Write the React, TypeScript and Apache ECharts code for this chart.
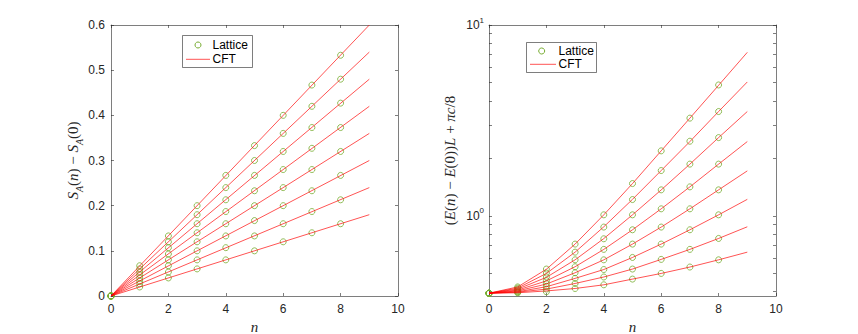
import React, { useEffect, useRef } from 'react';
import * as echarts from 'echarts';

// ---------- data ----------
const latticeN = [0, 1, 2, 3, 4, 5, 6, 7, 8];
const curveN = [0, 1, 2, 3, 4, 5, 6, 7, 8, 9];
const lineEndN = 9;

// Left panel: S_A(n) - S_A(0), Lattice points (n = 0..8), top line first
const entropyA = [0, 0.067, 0.133, 0.2, 0.267, 0.333, 0.4, 0.467, 0.533];
const entropyB = [0, 0.06, 0.12, 0.18, 0.24, 0.3, 0.36, 0.42, 0.48];
const entropyC = [0, 0.053, 0.107, 0.16, 0.213, 0.267, 0.32, 0.373, 0.427];
const entropyD = [0, 0.047, 0.093, 0.14, 0.187, 0.233, 0.28, 0.327, 0.373];
const entropyE = [0, 0.04, 0.08, 0.12, 0.16, 0.2, 0.24, 0.28, 0.32];
const entropyF = [0, 0.033, 0.067, 0.1, 0.133, 0.167, 0.2, 0.233, 0.267];
const entropyG = [0, 0.027, 0.053, 0.08, 0.107, 0.133, 0.16, 0.187, 0.213];
const entropyH = [0, 0.02, 0.04, 0.06, 0.08, 0.1, 0.12, 0.14, 0.16];
// CFT straight lines: value at n = 0 and at n = 9
const entropyCftStart = [0, 0, 0, 0, 0, 0, 0, 0];
const entropyCftEnd = [0.6, 0.54, 0.48, 0.42, 0.36, 0.3, 0.24, 0.18];

// Right panel: (E(n)-E(0))L + pi c/8, Lattice points (n = 0..8)
const energyA = [0.393, 0.424, 0.526, 0.711, 1.012, 1.476, 2.19, 3.25, 4.85];
const energyB = [0.393, 0.418, 0.501, 0.645, 0.873, 1.217, 1.727, 2.46, 3.52];
const energyC = [0.393, 0.413, 0.478, 0.588, 0.758, 1.012, 1.368, 1.866, 2.57];
const energyD = [0.393, 0.408, 0.457, 0.541, 0.667, 0.845, 1.088, 1.418, 1.866];
const energyE = [0.393, 0.404, 0.441, 0.503, 0.588, 0.711, 0.873, 1.088, 1.368];
const energyF = [0.393, 0.4, 0.427, 0.47, 0.523, 0.605, 0.711, 0.845, 1.012];
const energyG = [0.393, 0.398, 0.413, 0.442, 0.478, 0.526, 0.591, 0.667, 0.761];
const energyH = [0.393, 0.395, 0.4, 0.416, 0.435, 0.466, 0.499, 0.539, 0.588];
// CFT curves at n = 0..9
const energyCftA = [0.393, 0.424, 0.525, 0.711, 1.012, 1.476, 2.19, 3.25, 4.83, 7.19];
const energyCftB = [0.393, 0.418, 0.499, 0.645, 0.876, 1.22, 1.727, 2.45, 3.52, 5.03];
const energyCftC = [0.393, 0.413, 0.476, 0.588, 0.76, 1.012, 1.367, 1.866, 2.57, 3.52];
const energyCftD = [0.393, 0.408, 0.456, 0.541, 0.667, 0.845, 1.088, 1.418, 1.866, 2.45];
const energyCftE = [0.393, 0.404, 0.439, 0.503, 0.588, 0.711, 0.873, 1.088, 1.368, 1.72];
const energyCftF = [0.393, 0.4, 0.425, 0.47, 0.523, 0.605, 0.711, 0.845, 1.012, 1.22];
const energyCftG = [0.393, 0.398, 0.413, 0.442, 0.478, 0.526, 0.591, 0.667, 0.761, 0.876];
const energyCftH = [0.393, 0.395, 0.404, 0.416, 0.435, 0.466, 0.499, 0.539, 0.588, 0.645];

const leftTicksY = { min: 0, max: 0.6, interval: 0.1 };
const xTicks = { min: 0, max: 10, interval: 2 };
const logMin = 0.38;
const logMax = 10;
const logTickValues = [0.4, 0.5, 0.6, 0.7, 0.8, 0.9, 1, 2, 3, 4, 5, 6, 7, 8, 9, 10];
const logLabelValues = [1, 10];

const entropySets = [entropyA, entropyB, entropyC, entropyD, entropyE, entropyF, entropyG, entropyH];
const energySets = [energyA, energyB, energyC, energyD, energyE, energyF, energyG, energyH];
const energyCftSets = [energyCftA, energyCftB, energyCftC, energyCftD, energyCftE, energyCftF, energyCftG, energyCftH];

// ---------- styles ----------
const AX = '#262626';
const GREEN = '#77AC30';
const RED = 'rgba(255,0,0,0.85)';
const SANS = 'Liberation Sans, Arial, Helvetica, sans-serif';
const SERIF = 'Liberation Serif, DejaVu Serif, serif';

const tick = { show: true, inside: true, length: 3, lineStyle: { color: AX, width: 0.6 } };
const line = { show: true, onZero: false, lineStyle: { color: AX, width: 0.6 } };
const label = { color: AX, fontSize: 12, fontFamily: SANS };

const mathRich = {
  i: { fontFamily: SERIF, fontStyle: 'italic', fontSize: 15, lineHeight: 22, color: AX },
  r: { fontFamily: SERIF, fontSize: 15, lineHeight: 22, color: AX },
  s: { fontFamily: SERIF, fontStyle: 'italic', fontSize: 10, lineHeight: 10, verticalAlign: 'bottom', color: AX },
};

function buildOption() {
  const series: any[] = [];
  entropySets.forEach((vals) => {
    series.push({
      type: 'scatter', xAxisIndex: 0, yAxisIndex: 0, z: 2,
      symbol: 'circle', symbolSize: 6,
      itemStyle: { color: 'rgba(0,0,0,0)', borderColor: GREEN, borderWidth: 1 },
      data: latticeN.map((n, i) => [n, vals[i]]),
    });
  });
  entropyCftEnd.forEach((v, k) => {
    series.push({
      type: 'line', xAxisIndex: 0, yAxisIndex: 0, z: 3, showSymbol: false, symbol: 'none',
      lineStyle: { color: RED, width: 0.8 },
      data: [[0, entropyCftStart[k]], [lineEndN, v]],
    });
  });
  energySets.forEach((vals) => {
    series.push({
      type: 'scatter', xAxisIndex: 2, yAxisIndex: 2, z: 2,
      symbol: 'circle', symbolSize: 6,
      itemStyle: { color: 'rgba(0,0,0,0)', borderColor: GREEN, borderWidth: 1 },
      data: latticeN.map((n, i) => [n, vals[i]]),
    });
  });
  energyCftSets.forEach((vals) => {
    series.push({
      type: 'line', xAxisIndex: 2, yAxisIndex: 2, z: 3, showSymbol: false, symbol: 'none',
      lineStyle: { color: RED, width: 0.8 },
      data: curveN.map((n, i) => [n, vals[i]]),
    });
  });

  const xName = {
    name: 'n', nameLocation: 'middle', nameGap: 22,
    nameTextStyle: { fontFamily: SERIF, fontStyle: 'italic', fontSize: 15, color: AX },
  };

  const xAxis = [
    { gridIndex: 0, type: 'value', position: 'bottom', ...xTicks, axisLine: line, axisTick: tick, axisLabel: { ...label, margin: 7 }, splitLine: { show: false }, ...xName },
    { gridIndex: 0, type: 'value', position: 'top', ...xTicks, axisLine: line, axisTick: tick, axisLabel: { show: false }, splitLine: { show: false } },
    { gridIndex: 1, type: 'value', position: 'bottom', ...xTicks, axisLine: line, axisTick: tick, axisLabel: { ...label, margin: 7 }, splitLine: { show: false }, ...xName },
    { gridIndex: 1, type: 'value', position: 'top', ...xTicks, axisLine: line, axisTick: tick, axisLabel: { show: false }, splitLine: { show: false } },
  ];

  const logTick = { ...tick, customValues: logTickValues };
  const yAxis = [
    {
      gridIndex: 0, type: 'value', position: 'left', ...leftTicksY, axisLine: line, axisTick: tick,
      axisLabel: { ...label, margin: 6 }, splitLine: { show: false },
      name: '{i|S}{s|A}{r|(}{i|n}{r|) − }{i|S}{s|A}{r|(0)}', nameLocation: 'middle', nameGap: 27, nameRotate: 90,
      nameTextStyle: { rich: mathRich },
    },
    { gridIndex: 0, type: 'value', position: 'right', ...leftTicksY, axisLine: line, axisTick: tick, axisLabel: { show: false }, splitLine: { show: false } },
    {
      gridIndex: 1, type: 'log', logBase: 10, position: 'left', min: logMin, max: logMax, axisLine: line, axisTick: logTick,
      axisLabel: {
        ...label, margin: 5, customValues: logLabelValues,
        formatter: (v: number) => '{b|10}{p|' + Math.round(Math.log10(v)) + '}',
        rich: {
          b: { fontFamily: SANS, fontSize: 12, lineHeight: 18, color: AX },
          p: { fontFamily: SANS, fontSize: 8, lineHeight: 10, verticalAlign: 'top', color: AX },
        },
      },
      splitLine: { show: false },
      name: '{r|(}{i|E}{r|(}{i|n}{r|) − }{i|E}{r|(0))}{i|L}{r| + }{i|πc}{r|/8}', nameLocation: 'middle', nameGap: 28, nameRotate: 90,
      nameTextStyle: { rich: mathRich },
    },
    { gridIndex: 1, type: 'log', logBase: 10, position: 'right', min: logMin, max: logMax, axisLine: line, axisTick: logTick, axisLabel: { show: false }, splitLine: { show: false } },
  ];

  const legend = (bx: number, by: number, bw: number, bh: number, mx: number, my: number, lx1: number, lx2: number, ly: number, tx: number) => [
    { type: 'rect', shape: { x: bx, y: by, width: bw, height: bh }, style: { fill: '#fff', stroke: AX, lineWidth: 0.6 }, z: 10 },
    { type: 'circle', shape: { cx: mx, cy: my, r: 3 }, style: { fill: 'none', stroke: GREEN, lineWidth: 1 }, z: 11 },
    { type: 'text', x: tx, y: my, style: { text: 'Lattice', fontFamily: SANS, fontSize: 12, fill: '#000', verticalAlign: 'middle', align: 'left' }, z: 11 },
    { type: 'line', shape: { x1: lx1, y1: ly, x2: lx2, y2: ly }, style: { stroke: RED, lineWidth: 0.8 }, z: 11 },
    { type: 'text', x: tx, y: ly, style: { text: 'CFT', fontFamily: SANS, fontSize: 12, fill: '#000', verticalAlign: 'middle', align: 'left' }, z: 11 },
  ];

  return {
    animation: false,
    backgroundColor: '#fff',
    grid: [
      { left: 111, top: 25, width: 287, height: 271, outerBoundsMode: 'none', containLabel: false },
      { left: 489, top: 25, width: 287, height: 271, outerBoundsMode: 'none', containLabel: false },
    ],
    xAxis,
    yAxis,
    series,
    graphic: [
      ...legend(182.5, 35.5, 70, 32, 198, 45, 186, 210, 59.3, 212.5),
      ...legend(526.5, 42.5, 70, 30, 541.7, 51, 530, 556, 64.3, 558.5),
    ],
  };
}

export default function App() {
  const ref = useRef<HTMLDivElement>(null);
  useEffect(() => {
    if (!ref.current) return;
    const chart = echarts.init(ref.current, undefined, { renderer: 'svg' });
    chart.setOption(buildOption() as any);
    return () => chart.dispose();
  }, []);
  return <div ref={ref} style={{ position: 'fixed', left: 0, top: 0, width: 858, height: 334, background: '#fff' }} />;
}
